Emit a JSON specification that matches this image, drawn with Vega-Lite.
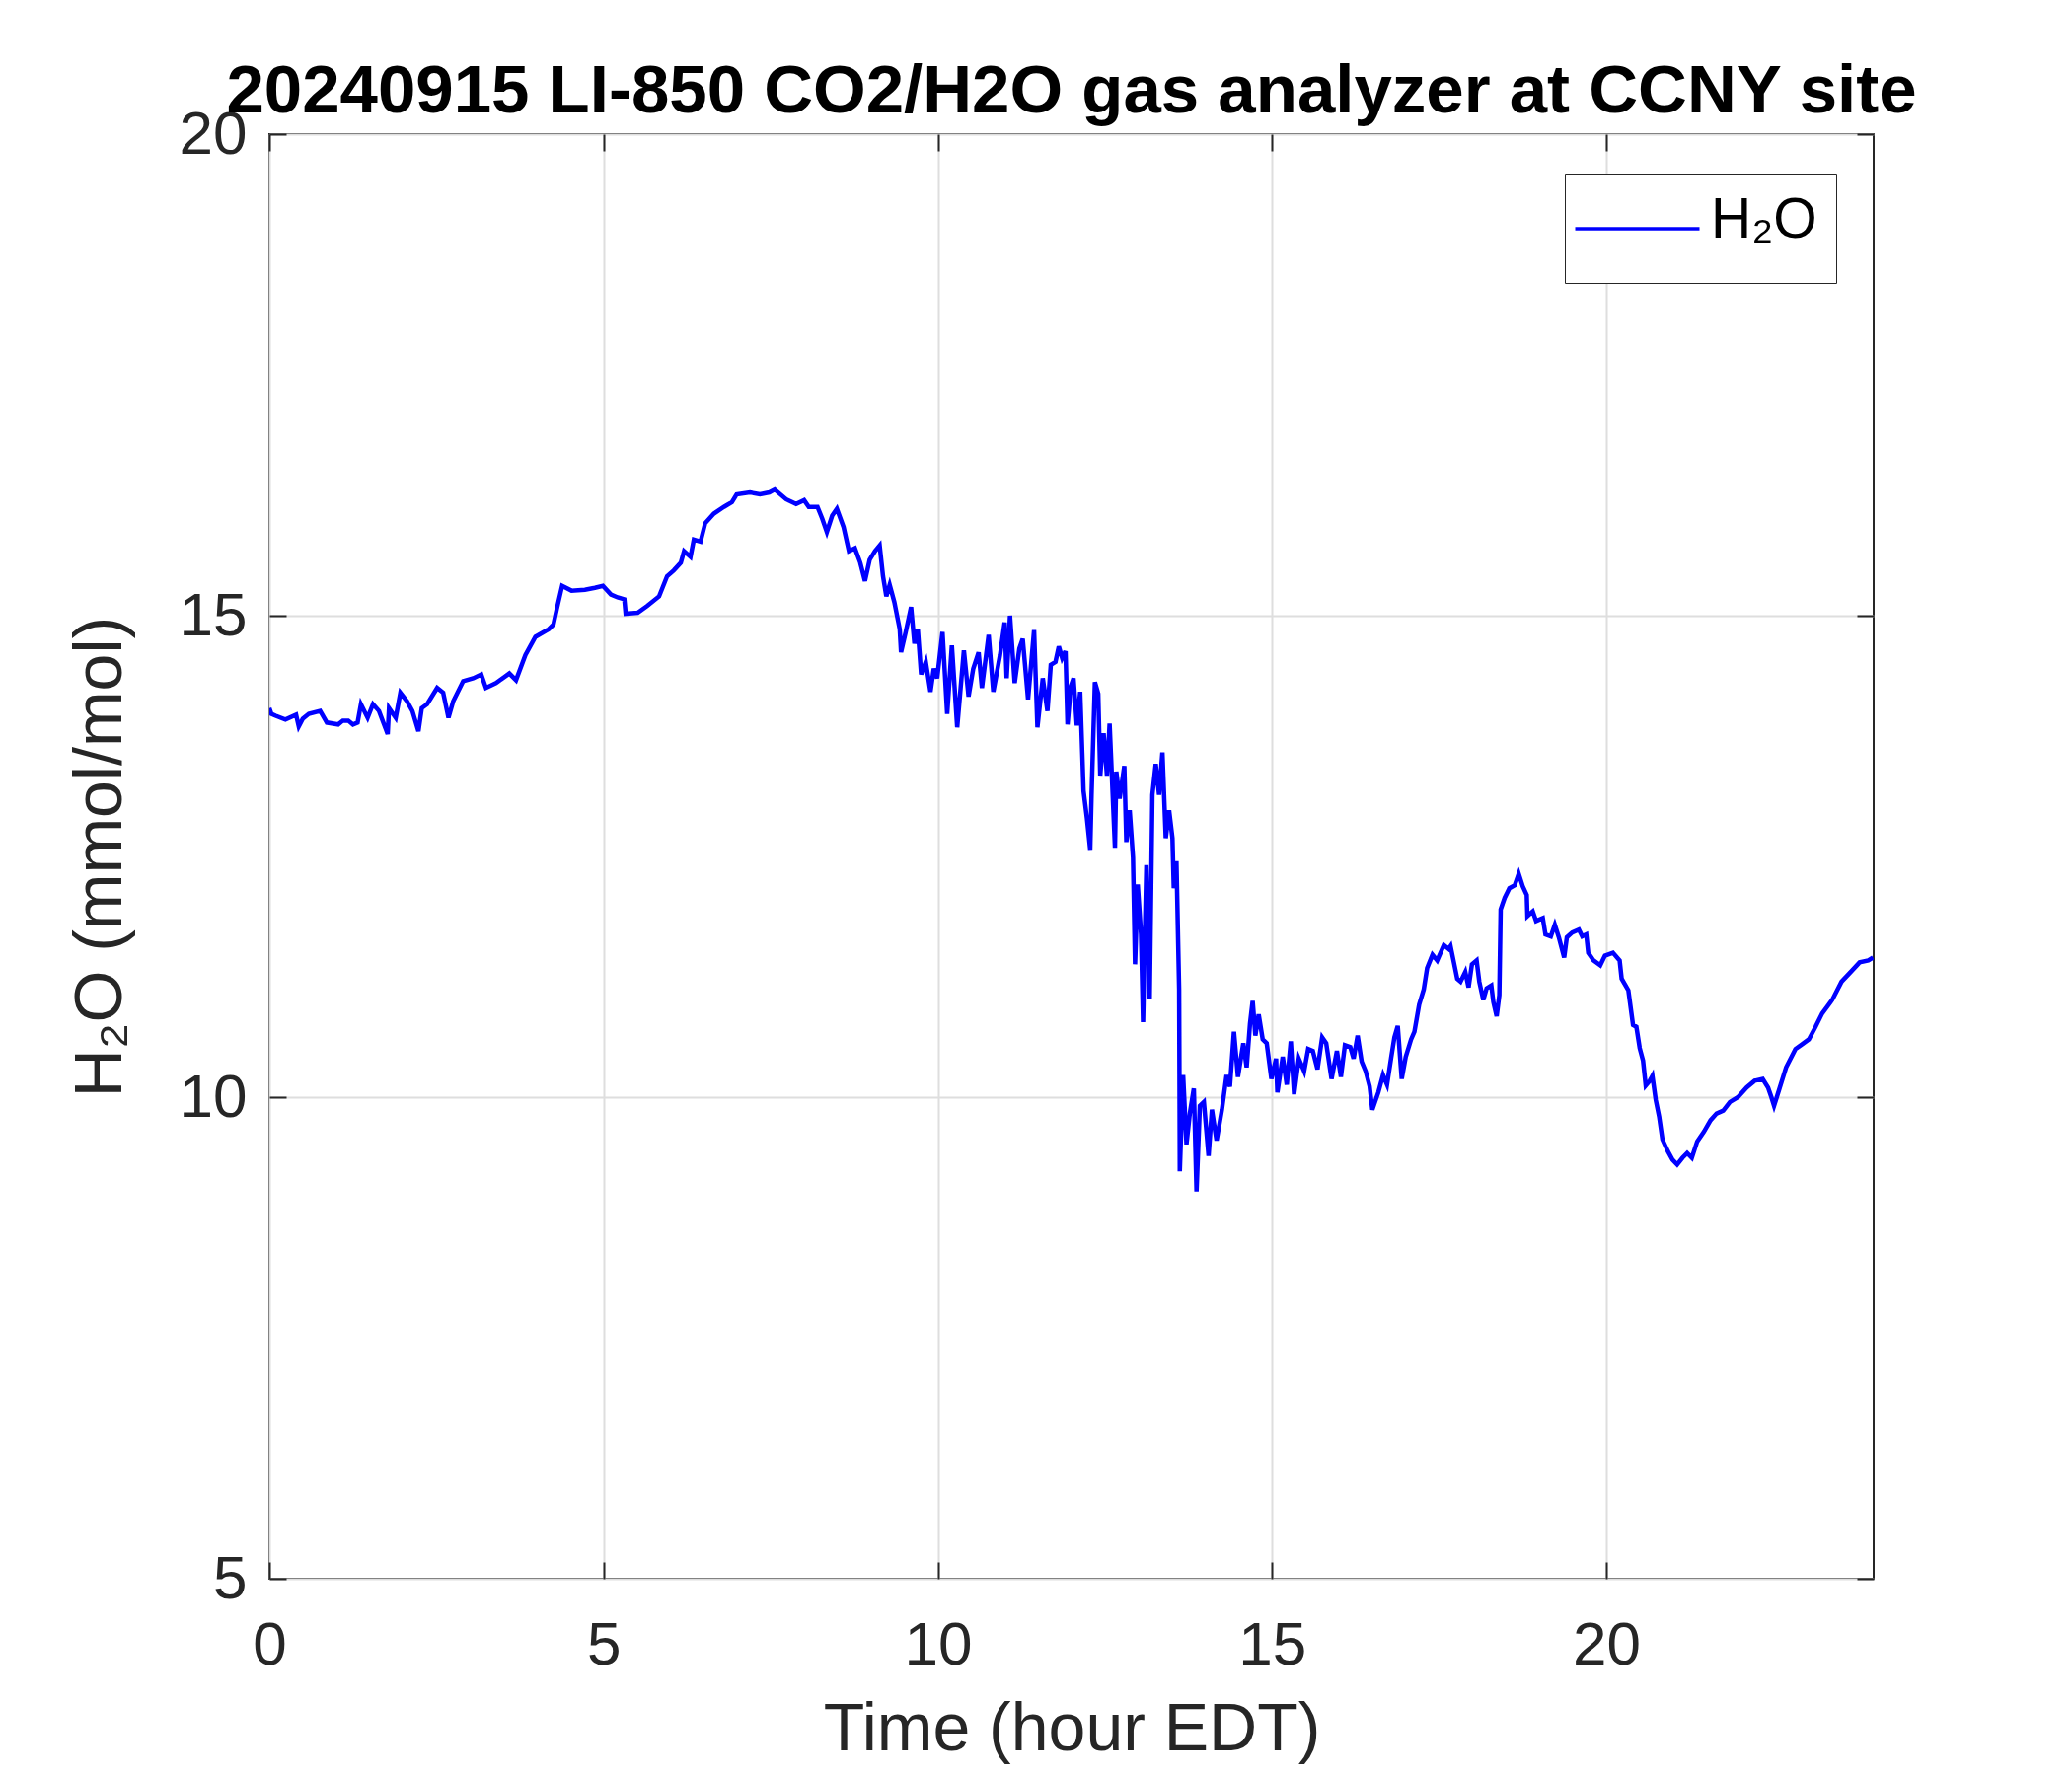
{
  "$schema": "https://vega.github.io/schema/vega-lite/v6.json",
  "width": 1626,
  "height": 1464,
  "autosize": {"type": "none"},
  "padding": {"left": 273, "top": 136, "right": 201, "bottom": 200},
  "background": "#ffffff",
  "title": {
    "text": "20240915 LI-850 CO2/H2O gas analyzer at CCNY site",
    "font": "Liberation Sans",
    "fontSize": 69,
    "fontWeight": "bold",
    "color": "#000000",
    "anchor": "middle",
    "offset": -23
  },
  "config": {
    "view": {"stroke": "#262626", "strokeWidth": 2}
  },
  "data": {
    "values": [
      {"hour": 0.0, "h2o": 14.04}, {"hour": 0.03, "h2o": 13.98}, {"hour": 0.095, "h2o": 13.96}, {"hour": 0.24, "h2o": 13.92},
      {"hour": 0.4, "h2o": 13.97}, {"hour": 0.44, "h2o": 13.85}, {"hour": 0.5, "h2o": 13.93}, {"hour": 0.59, "h2o": 13.98},
      {"hour": 0.76, "h2o": 14.01}, {"hour": 0.86, "h2o": 13.89}, {"hour": 1.03, "h2o": 13.87}, {"hour": 1.1, "h2o": 13.91},
      {"hour": 1.18, "h2o": 13.91}, {"hour": 1.25, "h2o": 13.87}, {"hour": 1.32, "h2o": 13.89}, {"hour": 1.37, "h2o": 14.08},
      {"hour": 1.47, "h2o": 13.94}, {"hour": 1.55, "h2o": 14.08}, {"hour": 1.64, "h2o": 14.01}, {"hour": 1.77, "h2o": 13.77},
      {"hour": 1.79, "h2o": 14.04}, {"hour": 1.89, "h2o": 13.94}, {"hour": 1.96, "h2o": 14.2}, {"hour": 2.06, "h2o": 14.11},
      {"hour": 2.14, "h2o": 14.01}, {"hour": 2.23, "h2o": 13.8}, {"hour": 2.28, "h2o": 14.04}, {"hour": 2.36, "h2o": 14.08},
      {"hour": 2.51, "h2o": 14.25}, {"hour": 2.6, "h2o": 14.2}, {"hour": 2.68, "h2o": 13.94}, {"hour": 2.75, "h2o": 14.11},
      {"hour": 2.9, "h2o": 14.32}, {"hour": 3.05, "h2o": 14.35}, {"hour": 3.17, "h2o": 14.39}, {"hour": 3.24, "h2o": 14.25},
      {"hour": 3.39, "h2o": 14.3}, {"hour": 3.59, "h2o": 14.4}, {"hour": 3.69, "h2o": 14.33}, {"hour": 3.83, "h2o": 14.59},
      {"hour": 3.98, "h2o": 14.78}, {"hour": 4.18, "h2o": 14.86}, {"hour": 4.25, "h2o": 14.91}, {"hour": 4.3, "h2o": 15.07},
      {"hour": 4.38, "h2o": 15.31}, {"hour": 4.52, "h2o": 15.26}, {"hour": 4.72, "h2o": 15.27}, {"hour": 4.87, "h2o": 15.29},
      {"hour": 4.99, "h2o": 15.31}, {"hour": 5.11, "h2o": 15.22}, {"hour": 5.21, "h2o": 15.19}, {"hour": 5.31, "h2o": 15.17},
      {"hour": 5.33, "h2o": 15.02}, {"hour": 5.51, "h2o": 15.03}, {"hour": 5.65, "h2o": 15.1}, {"hour": 5.83, "h2o": 15.2},
      {"hour": 5.95, "h2o": 15.41}, {"hour": 6.05, "h2o": 15.47}, {"hour": 6.155, "h2o": 15.55}, {"hour": 6.204, "h2o": 15.67},
      {"hour": 6.3, "h2o": 15.61}, {"hour": 6.35, "h2o": 15.79}, {"hour": 6.45, "h2o": 15.77}, {"hour": 6.52, "h2o": 15.96},
      {"hour": 6.65, "h2o": 16.06}, {"hour": 6.8, "h2o": 16.13}, {"hour": 6.92, "h2o": 16.18}, {"hour": 6.99, "h2o": 16.26},
      {"hour": 7.19, "h2o": 16.28}, {"hour": 7.34, "h2o": 16.26}, {"hour": 7.48, "h2o": 16.28}, {"hour": 7.56, "h2o": 16.31},
      {"hour": 7.73, "h2o": 16.21}, {"hour": 7.88, "h2o": 16.16}, {"hour": 8.0, "h2o": 16.2}, {"hour": 8.07, "h2o": 16.13},
      {"hour": 8.2, "h2o": 16.13}, {"hour": 8.27, "h2o": 16.01}, {"hour": 8.34, "h2o": 15.87}, {"hour": 8.42, "h2o": 16.04},
      {"hour": 8.49, "h2o": 16.11}, {"hour": 8.59, "h2o": 15.92}, {"hour": 8.67, "h2o": 15.67}, {"hour": 8.76, "h2o": 15.7},
      {"hour": 8.84, "h2o": 15.55}, {"hour": 8.91, "h2o": 15.36}, {"hour": 8.98, "h2o": 15.58}, {"hour": 9.06, "h2o": 15.67},
      {"hour": 9.13, "h2o": 15.73}, {"hour": 9.18, "h2o": 15.41}, {"hour": 9.23, "h2o": 15.2}, {"hour": 9.28, "h2o": 15.32},
      {"hour": 9.35, "h2o": 15.14}, {"hour": 9.43, "h2o": 14.86}, {"hour": 9.45, "h2o": 14.62}, {"hour": 9.52, "h2o": 14.83},
      {"hour": 9.6, "h2o": 15.09}, {"hour": 9.65, "h2o": 14.71}, {"hour": 9.7, "h2o": 14.86}, {"hour": 9.75, "h2o": 14.39},
      {"hour": 9.82, "h2o": 14.52}, {"hour": 9.89, "h2o": 14.21}, {"hour": 9.94, "h2o": 14.45}, {"hour": 9.99, "h2o": 14.35},
      {"hour": 10.07, "h2o": 14.83}, {"hour": 10.14, "h2o": 13.98}, {"hour": 10.21, "h2o": 14.69}, {"hour": 10.29, "h2o": 13.84},
      {"hour": 10.39, "h2o": 14.64}, {"hour": 10.46, "h2o": 14.16}, {"hour": 10.53, "h2o": 14.45}, {"hour": 10.61, "h2o": 14.62},
      {"hour": 10.66, "h2o": 14.25}, {"hour": 10.76, "h2o": 14.8}, {"hour": 10.83, "h2o": 14.21}, {"hour": 10.93, "h2o": 14.59},
      {"hour": 11.0, "h2o": 14.93}, {"hour": 11.03, "h2o": 14.35}, {"hour": 11.08, "h2o": 15.0}, {"hour": 11.15, "h2o": 14.3},
      {"hour": 11.22, "h2o": 14.66}, {"hour": 11.27, "h2o": 14.76}, {"hour": 11.35, "h2o": 14.13}, {"hour": 11.44, "h2o": 14.85},
      {"hour": 11.49, "h2o": 13.84}, {"hour": 11.57, "h2o": 14.35}, {"hour": 11.64, "h2o": 14.01}, {"hour": 11.69, "h2o": 14.49},
      {"hour": 11.76, "h2o": 14.52}, {"hour": 11.81, "h2o": 14.68}, {"hour": 11.86, "h2o": 14.56}, {"hour": 11.91, "h2o": 14.63},
      {"hour": 11.94, "h2o": 13.87}, {"hour": 11.99, "h2o": 14.27}, {"hour": 12.03, "h2o": 14.35}, {"hour": 12.08, "h2o": 13.86},
      {"hour": 12.13, "h2o": 14.21}, {"hour": 12.18, "h2o": 13.18}, {"hour": 12.23, "h2o": 12.9}, {"hour": 12.28, "h2o": 12.57},
      {"hour": 12.3, "h2o": 13.14}, {"hour": 12.35, "h2o": 14.31}, {"hour": 12.4, "h2o": 14.19}, {"hour": 12.43, "h2o": 13.34},
      {"hour": 12.48, "h2o": 13.78}, {"hour": 12.53, "h2o": 13.34}, {"hour": 12.57, "h2o": 13.88}, {"hour": 12.65, "h2o": 12.59},
      {"hour": 12.67, "h2o": 13.38}, {"hour": 12.72, "h2o": 13.1}, {"hour": 12.79, "h2o": 13.44}, {"hour": 12.82, "h2o": 12.65},
      {"hour": 12.87, "h2o": 12.98}, {"hour": 12.92, "h2o": 12.49}, {"hour": 12.95, "h2o": 11.38}, {"hour": 12.99, "h2o": 12.21},
      {"hour": 13.04, "h2o": 11.69}, {"hour": 13.07, "h2o": 10.78}, {"hour": 13.12, "h2o": 12.41}, {"hour": 13.17, "h2o": 11.02},
      {"hour": 13.21, "h2o": 13.14}, {"hour": 13.26, "h2o": 13.46}, {"hour": 13.31, "h2o": 13.14}, {"hour": 13.36, "h2o": 13.58},
      {"hour": 13.41, "h2o": 12.69}, {"hour": 13.46, "h2o": 12.98}, {"hour": 13.51, "h2o": 12.69}, {"hour": 13.53, "h2o": 12.17},
      {"hour": 13.57, "h2o": 12.45}, {"hour": 13.61, "h2o": 11.12}, {"hour": 13.62, "h2o": 9.23}, {"hour": 13.67, "h2o": 10.23},
      {"hour": 13.72, "h2o": 9.51}, {"hour": 13.77, "h2o": 9.83}, {"hour": 13.83, "h2o": 10.09}, {"hour": 13.87, "h2o": 9.02},
      {"hour": 13.92, "h2o": 9.91}, {"hour": 13.98, "h2o": 9.95}, {"hour": 14.05, "h2o": 9.39}, {"hour": 14.1, "h2o": 9.87},
      {"hour": 14.17, "h2o": 9.55}, {"hour": 14.25, "h2o": 9.87}, {"hour": 14.32, "h2o": 10.23}, {"hour": 14.37, "h2o": 10.11},
      {"hour": 14.43, "h2o": 10.68}, {"hour": 14.49, "h2o": 10.21}, {"hour": 14.57, "h2o": 10.56}, {"hour": 14.62, "h2o": 10.31},
      {"hour": 14.67, "h2o": 10.76}, {"hour": 14.71, "h2o": 11.0}, {"hour": 14.75, "h2o": 10.64}, {"hour": 14.8, "h2o": 10.86},
      {"hour": 14.86, "h2o": 10.6}, {"hour": 14.92, "h2o": 10.56}, {"hour": 14.99, "h2o": 10.19}, {"hour": 15.06, "h2o": 10.4},
      {"hour": 15.08, "h2o": 10.05}, {"hour": 15.16, "h2o": 10.42}, {"hour": 15.22, "h2o": 10.13}, {"hour": 15.28, "h2o": 10.58},
      {"hour": 15.33, "h2o": 10.03}, {"hour": 15.4, "h2o": 10.4}, {"hour": 15.48, "h2o": 10.27}, {"hour": 15.54, "h2o": 10.5},
      {"hour": 15.61, "h2o": 10.48}, {"hour": 15.68, "h2o": 10.29}, {"hour": 15.75, "h2o": 10.62}, {"hour": 15.81, "h2o": 10.56},
      {"hour": 15.89, "h2o": 10.19}, {"hour": 15.97, "h2o": 10.48}, {"hour": 16.03, "h2o": 10.21}, {"hour": 16.09, "h2o": 10.54},
      {"hour": 16.17, "h2o": 10.52}, {"hour": 16.22, "h2o": 10.4}, {"hour": 16.28, "h2o": 10.64}, {"hour": 16.34, "h2o": 10.37},
      {"hour": 16.4, "h2o": 10.27}, {"hour": 16.46, "h2o": 10.11}, {"hour": 16.5, "h2o": 9.87}, {"hour": 16.59, "h2o": 10.05},
      {"hour": 16.66, "h2o": 10.23}, {"hour": 16.72, "h2o": 10.13}, {"hour": 16.78, "h2o": 10.4}, {"hour": 16.83, "h2o": 10.62},
      {"hour": 16.88, "h2o": 10.74}, {"hour": 16.94, "h2o": 10.19}, {"hour": 17.0, "h2o": 10.42}, {"hour": 17.08, "h2o": 10.6},
      {"hour": 17.13, "h2o": 10.68}, {"hour": 17.2, "h2o": 10.96}, {"hour": 17.27, "h2o": 11.12}, {"hour": 17.32, "h2o": 11.34},
      {"hour": 17.4, "h2o": 11.48}, {"hour": 17.47, "h2o": 11.42}, {"hour": 17.57, "h2o": 11.58}, {"hour": 17.64, "h2o": 11.54},
      {"hour": 17.67, "h2o": 11.57}, {"hour": 17.72, "h2o": 11.4}, {"hour": 17.77, "h2o": 11.23}, {"hour": 17.82, "h2o": 11.2},
      {"hour": 17.89, "h2o": 11.3}, {"hour": 17.94, "h2o": 11.14}, {"hour": 17.99, "h2o": 11.38}, {"hour": 18.06, "h2o": 11.42},
      {"hour": 18.1, "h2o": 11.2}, {"hour": 18.16, "h2o": 11.01}, {"hour": 18.21, "h2o": 11.13}, {"hour": 18.28, "h2o": 11.16},
      {"hour": 18.31, "h2o": 10.99}, {"hour": 18.36, "h2o": 10.84}, {"hour": 18.4, "h2o": 11.06}, {"hour": 18.42, "h2o": 11.95},
      {"hour": 18.48, "h2o": 12.07}, {"hour": 18.55, "h2o": 12.17}, {"hour": 18.63, "h2o": 12.2}, {"hour": 18.69, "h2o": 12.32},
      {"hour": 18.75, "h2o": 12.19}, {"hour": 18.81, "h2o": 12.1}, {"hour": 18.82, "h2o": 11.88}, {"hour": 18.9, "h2o": 11.93},
      {"hour": 18.95, "h2o": 11.83}, {"hour": 19.05, "h2o": 11.86}, {"hour": 19.09, "h2o": 11.69}, {"hour": 19.17, "h2o": 11.67},
      {"hour": 19.23, "h2o": 11.79}, {"hour": 19.29, "h2o": 11.66}, {"hour": 19.37, "h2o": 11.45}, {"hour": 19.41, "h2o": 11.66},
      {"hour": 19.49, "h2o": 11.71}, {"hour": 19.59, "h2o": 11.74}, {"hour": 19.64, "h2o": 11.67}, {"hour": 19.7, "h2o": 11.69},
      {"hour": 19.73, "h2o": 11.5}, {"hour": 19.81, "h2o": 11.42}, {"hour": 19.91, "h2o": 11.37}, {"hour": 19.98, "h2o": 11.47},
      {"hour": 20.1, "h2o": 11.5}, {"hour": 20.2, "h2o": 11.42}, {"hour": 20.23, "h2o": 11.23}, {"hour": 20.33, "h2o": 11.11},
      {"hour": 20.4, "h2o": 10.75}, {"hour": 20.45, "h2o": 10.73}, {"hour": 20.5, "h2o": 10.51}, {"hour": 20.55, "h2o": 10.38},
      {"hour": 20.59, "h2o": 10.12}, {"hour": 20.65, "h2o": 10.17}, {"hour": 20.69, "h2o": 10.22}, {"hour": 20.74, "h2o": 9.97},
      {"hour": 20.79, "h2o": 9.8}, {"hour": 20.84, "h2o": 9.56}, {"hour": 20.92, "h2o": 9.44}, {"hour": 20.99, "h2o": 9.35},
      {"hour": 21.06, "h2o": 9.3}, {"hour": 21.14, "h2o": 9.37}, {"hour": 21.21, "h2o": 9.42}, {"hour": 21.28, "h2o": 9.37},
      {"hour": 21.36, "h2o": 9.54}, {"hour": 21.46, "h2o": 9.64}, {"hour": 21.56, "h2o": 9.76}, {"hour": 21.65, "h2o": 9.83},
      {"hour": 21.75, "h2o": 9.86}, {"hour": 21.85, "h2o": 9.95}, {"hour": 21.97, "h2o": 10.0}, {"hour": 22.1, "h2o": 10.1},
      {"hour": 22.22, "h2o": 10.17}, {"hour": 22.34, "h2o": 10.19}, {"hour": 22.42, "h2o": 10.1}, {"hour": 22.47, "h2o": 10.0},
      {"hour": 22.51, "h2o": 9.91}, {"hour": 22.56, "h2o": 10.02}, {"hour": 22.69, "h2o": 10.31}, {"hour": 22.83, "h2o": 10.5},
      {"hour": 22.93, "h2o": 10.55}, {"hour": 23.03, "h2o": 10.6}, {"hour": 23.13, "h2o": 10.73}, {"hour": 23.23, "h2o": 10.87},
      {"hour": 23.38, "h2o": 11.01}, {"hour": 23.52, "h2o": 11.2}, {"hour": 23.67, "h2o": 11.31}, {"hour": 23.79, "h2o": 11.4},
      {"hour": 23.92, "h2o": 11.42}, {"hour": 23.99, "h2o": 11.45}
    ]
  },
  "layer": [
    {
      "mark": {"type": "line", "strokeWidth": 4.5, "clip": true},
      "encoding": {
        "x": {
          "field": "hour", "type": "quantitative",
          "scale": {"domain": [0, 24], "nice": false, "zero": false},
          "axis": {
            "values": [0, 5, 10, 15, 20], "format": "d",
            "title": "Time (hour EDT)",
            "titleFont": "Liberation Sans", "titleFontSize": 68, "titleFontWeight": "normal", "titleColor": "#262626",
            "titleX": 813, "titleY": 173, "titleBaseline": "alphabetic", "titleAlign": "center",
            "labelFont": "Liberation Sans", "labelFontSize": 62, "labelColor": "#262626",
            "labelBaseline": "alphabetic", "labelPadding": 103, "labelFlush": false, "labelOverlap": false, "labelBound": false,
            "tickSize": -17, "tickColor": "#262626", "tickWidth": 2,
            "domain": false,
            "grid": true, "gridColor": "#dedede", "gridWidth": 2
          }
        },
        "y": {
          "field": "h2o", "type": "quantitative",
          "scale": {"domain": [5, 20], "nice": false, "zero": false},
          "axis": {
            "values": [5, 10, 15, 20], "format": "d",
            "title": "H₂O (mmol/mol)",
            "titleFont": "Liberation Sans", "titleFontSize": 68, "titleFontWeight": "normal", "titleColor": "#262626",
            "titleX": -151, "titleY": 732, "titleAngle": -90, "titleBaseline": "alphabetic", "titleAlign": "center",
            "labelFont": "Liberation Sans", "labelFontSize": 62, "labelColor": "#262626",
            "labelBaseline": "middle", "labelPadding": 40, "labelFlush": false, "labelOverlap": false, "labelBound": false,
            "tickSize": -17, "tickColor": "#262626", "tickWidth": 2,
            "domain": false,
            "grid": true, "gridColor": "#dedede", "gridWidth": 2
          }
        },
        "color": {
          "datum": "H₂O", "type": "nominal",
          "scale": {"range": ["#0000ff"]},
          "legend": {
            "orient": "none", "legendX": 1313, "legendY": 40,
            "title": null,
            "strokeColor": "#262626", "fillColor": "#ffffff", "padding": 19, "cornerRadius": 0,
            "labelFont": "Liberation Sans", "labelFontSize": 57, "labelColor": "#000000",
            "symbolType": "M-6,-2.5M-6,0.81H6M6,3.48", "symbolSize": 441, "symbolStrokeWidth": 3.5,
            "symbolOffset": 26, "labelOffset": 46
          }
        }
      }
    },
    {
      "mark": {"type": "line", "opacity": 0},
      "encoding": {
        "x": {
          "field": "hour", "type": "quantitative",
          "scale": {"domain": [0, 24], "nice": false, "zero": false},
          "axis": {"orient": "top", "values": [0, 5, 10, 15, 20], "labels": false, "title": null, "domain": false, "grid": false,
                   "tickSize": -17, "tickColor": "#262626", "tickWidth": 2}
        },
        "y": {
          "field": "h2o", "type": "quantitative",
          "scale": {"domain": [5, 20], "nice": false, "zero": false},
          "axis": {"orient": "right", "values": [5, 10, 15, 20], "labels": false, "title": null, "domain": false, "grid": false,
                   "tickSize": -17, "tickColor": "#262626", "tickWidth": 2}
        }
      }
    }
  ],
  "resolve": {"axis": {"x": "independent", "y": "independent"}}
}
